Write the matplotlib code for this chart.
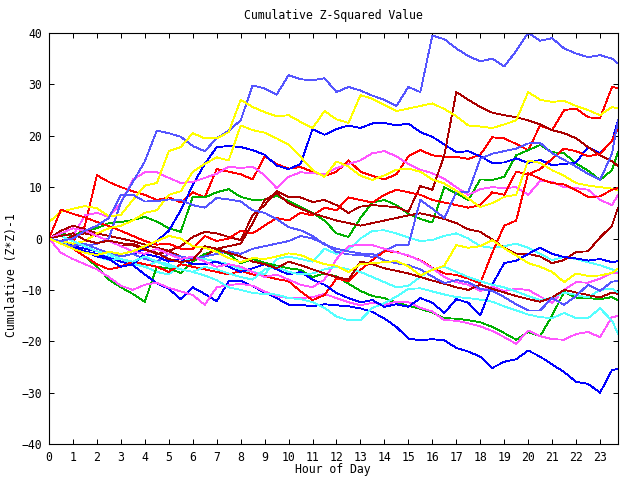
import matplotlib
matplotlib.use("Agg")
import matplotlib.pyplot as plt

# half-hour samples, last point at 23:45
hours = [i * 0.5 for i in range(48)] + [23.75]

red_a = [0, 0.5, -0.5, 2.5, 12.3, 11, 10, 9.2, 8.5, 7.5, 8, 7,
         9, 8, 13.5, 13, 12.5, 11.5, 16, 14.5, 13.6, 13.9, 13, 12.2,
         13, 15.2, 13, 12.2, 11.5, 12.5, 16, 17.2, 16.2, 15.9, 15.9, 15.5,
         16.3, 19.7, 19.5, 18.4, 17.2, 22, 21.1, 25, 25.3, 23.6, 23.4, 29.5,
         29.3]
red_b = [0, 5.6, 4.8, 4.1, 3.2, 2.4, 1.5, 0.5, -0.5, -1.2, -1, -2,
         -2, 0.5, -0.5, 0, 1.5, 1, 2.5, 4, 3.5, 5, 4.5, 6,
         5.5, 8, 7.5, 7, 8.5, 9.5, 9, 8.5, 7.5, 7, 6.5, 6,
         6.5, 9, 8.5, 13, 12.5, 13.5, 15.5, 17.5, 17, 16, 16.5, 19,
         21.5]
red_c = [0, -1, -2, -3.5, -5, -6, -5.5, -4.5, -5, -5.5, -6.5, -5,
         -5.5, -6, -6.5, -7, -6.3, -7, -7.3, -7.9, -8.3, -10.3, -12, -11,
         -7.8, -8.3, -6.1, -4.2, -2.5, -2.6, -3.4, -4.2, -5.7, -6.8, -7.1, -7.8,
         -8.7, -2.8, 2.5, 3.5, 12.7, 11.6, 10.8, 10.5, 9.4, 8.1, 8.2, 9.5,
         9.8]
green_a = [0, 1, 0.5, 1.5, 2, 3, 3.2, 3.6, 4.2, 3.3, 2, 1.3,
           8.1, 8, 9, 9.6, 8.1, 7.5, 7.6, 8.3, 7.3, 6.1, 5, 3.5,
           1, 0.3, 4, 7, 7.5, 6.5, 4.8, 3.8, 3.1, 10, 8.8, 7.5,
           11.5, 11.4, 12, 16.2, 17.2, 18.2, 16.8, 16.6, 14.6, 13.2, 11.4, 13.3,
           16.8]
green_b = [0, -1, -2, -3.5, -5.5, -8, -9.5, -10.8, -12.3, -5.5, -5.8, -6.7,
           -4.5, -3, -2.2, -3, -4.8, -4, -4.7, -5.3, -5.8, -6.1, -7.5, -6.8,
           -7.4, -8.8, -10.2, -11.2, -11.6, -12.5, -13.1, -13.7, -14.4, -15.5, -15.6, -15.9,
           -16.3, -17.2, -18.4, -19.7, -18.2, -19, -15, -10.4, -11.5, -11.6, -11.8, -11.4,
           -12]
blue_a = [0, -0.5, -1.5, -2, -2.5, -3, -3.5, -3, -2, -0.5, 1.5, 5.5,
          10.4, 14.5, 17.8, 18, 17.8, 17.2, 16.3, 14.2, 13.5, 14.5, 21.3, 20.2,
          21.3, 22, 21.5, 22.4, 22.5, 22, 22.4, 20.7, 19.8, 18.3, 16.8, 17,
          16, 14.7, 14.8, 15.6, 14.7, 15.3, 14.3, 14.5, 14.8, 17.8, 16.6, 19,
          23]
blue_b = [0, -1, -1.5, -2.5, -3, -3.8, -4.5, -5.2, -7, -8.7, -9.8, -11.8,
          -9.5, -10.8, -12.2, -8.3, -8.2, -9.3, -10.5, -11.6, -12.9, -12.9, -13.2, -12.8,
          -13, -13.2, -13.6, -14.3, -15.6, -17.2, -19.5, -19.8, -19.6, -19.8, -21.3, -22,
          -23, -25.2, -24, -23.5, -21.8, -23, -24.5, -26, -27.9, -28.3, -30, -25.6,
          -25.4]
blue_c = [0, -1, -2, -2.5, -3.5, -4, -5.5, -5, -3, -3.5, -4.5, -4,
          -5, -5, -4.5, -5.5, -6.5, -5.8, -5, -6, -7, -6.5, -8, -9,
          -10.6, -11.6, -12.4, -12, -13.3, -12.8, -13.3, -11.6, -12.5, -14.5, -11.8, -12.5,
          -15, -9, -4.8, -4.3, -3, -1.8, -3, -3.6, -3.9, -4.3, -4, -4.6,
          -4.4]
magenta_a = [0, -0.5, 0.5, 4.5, 5, 4.2, 6.9, 11.5, 12.9, 12.9, 11.8, 10.8,
             11, 11.8, 12.6, 14, 13.7, 14, 12.3, 9.8, 12, 12.9, 12.7, 12.5,
             13.7, 14.5, 15.2, 16.6, 17, 16, 14.5, 13.4, 12.7, 11.6, 10, 8.5,
             9.6, 10, 9.8, 10, 8.5, 11.2, 11, 10, 9.8, 9.5, 7.5, 6.5,
             8.5]
magenta_b = [0, -2.8, -4, -5, -6, -7.5, -9.2, -10, -9, -8.6, -9.6, -10.3,
             -11, -12.9, -9.5, -9.1, -8.8, -9.2, -10.3, -11.2, -11.6, -11.6, -11.4, -10.8,
             -11.6, -12.4, -13, -12.5, -12.9, -12.3, -12.4, -13.5, -14.2, -15.9, -16, -16.5,
             -17.1, -18, -19.2, -20.5, -17.9, -19, -19.6, -19.7, -18.6, -18.2, -19.2, -15.3,
             -15.1]
magenta_c = [0, 1, 2, 1.5, 0.5, -0.5, -1.5, -2.5, -3, -2, -3, -4,
             -3.5, -4.5, -5.5, -5, -5.5, -6.5, -7.5, -7, -8, -9, -9.5, -8,
             -4, -1.5, -1.2, -1.3, -2, -2.7, -3.3, -4.3, -5.8, -7.5, -8.5, -9,
             -10.2, -9.4, -10.2, -9.8, -10, -11.3, -12.5, -10, -8.5, -8.6, -7.8, -6.7,
             -6.7]
cyan_a = [0, -1, -1.5, -2.5, -3, -3.5, -4.5, -5, -5.5, -6.5, -7, -5,
          -3.5, -4, -4.5, -5, -6, -6.5, -7, -4, -3.5, -4, -4.5, -2,
          -3, -2.2, 0, 1.5, 1.6, 1, 0.2, -0.5, -0.3, 0.5, 1, 0,
          -1.5, -1.8, -1.5, -1, -1.8, -3, -4.2, -3.6, -4, -4.6, -5.2, -6,
          -6.5]
cyan_b = [0, -0.5, -2, -2.5, -3.5, -4.2, -4, -4.8, -5.5, -4.5, -5.5, -6,
          -6.5, -7.2, -8.1, -9.5, -10, -10.6, -10.8, -10.9, -11.6, -11.8, -12.4, -13.5,
          -15.2, -15.9, -15.9, -13.5, -12.6, -11.3, -9.8, -9.7, -10.3, -10.9, -11.4, -11.6,
          -11.9, -12.3, -13.2, -14, -14.8, -15.3, -15.5, -14.5, -15.5, -15.5, -13.6, -16,
          -18.5]
cyan_c = [0, 0.5, -0.5, -1.5, -2.5, -3, -4, -4.5, -3.5, -4.5, -5, -6,
          -6.5, -5.5, -6, -6.8, -7.5, -8, -6, -5.5, -6.5, -7, -6.8, -6,
          -5.5, -6, -6.5, -7.5, -8.5, -9.5, -9.2, -7.5, -6, -5.5, -6.5, -7.5,
          -8.3, -9, -9.5, -10.3, -11.2, -12, -11.5, -10.5, -11, -11.5, -10, -9.8,
          -10.5]
darkred_a = [0, 1.5, 2.5, 1.8, 1, 0.5, 0, -0.5, -1.2, -1.8, -2.4, -1.5,
             0.3, 1.3, 1, 0.3, -0.3, 4.5, 6.5, 9.2, 8.1, 8, 7.1, 7.5,
             6.5, 5, 6.2, 6.5, 6.3, 6.1, 5.2, 10.2, 9.5, 16.2, 28.5, 27,
             25.6, 24.5, 24, 23.6, 23, 22.2, 21.1, 20.5, 19.5, 17.8, 16.2, 15,
             14.1]
darkred_b = [0, -0.5, 0.5, 1, 0.5, -0.5, -1.5, -1, -2, -3, -2.5, -3.5,
             -4, -3.5, -2, -1.5, -1, 3, 7.5, 8.8, 6.9, 5.8, 4.9, 4.2,
             3.5, 3, 2.5, 3, 3.5, 4, 4.5, 4.9, 4.4, 3.8, 3, 1.8,
             1.3, -0.2, -1.8, -3, -3, -3.5, -4.8, -4.2, -2.6, -2.5, 0.2, 2.5,
             6]
darkred_c = [0, 0.5, 1, -0.3, -0.9, -0.4, -0.9, -1.3, -2.2, -2.8, -4, -4.6,
             -4.2, -1.5, -2, -2.8, -3.5, -4.5, -5, -5.8, -4.5, -5.2, -6, -6.8,
             -7.5, -8, -4.5, -5, -5.8, -6.3, -6.8, -7.5, -8.2, -8.8, -9.5, -10,
             -9, -9.8, -10.5, -11.2, -11.8, -12.3, -11.5, -10, -10.5, -11, -11.5, -10.5,
             -10.8]
slate_a = [0, -0.5, -1, -1.5, -1, 0, 7, 11, 15, 21, 20.5, 19.8,
           18, 17, 19.5, 21, 23, 29.8, 29.2, 28, 31.8, 31, 30.8, 31.2,
           28.5, 29.5, 28.8, 27.8, 27, 25.8, 29.5, 28.5, 39.5, 38.8, 37, 35.5,
           34.5, 35, 33.5, 36.5, 40, 38.5, 39, 37, 36, 35.3, 35.7, 35,
           34.1]
slate_b = [0, -1, -1.5, -1, -2, -2.8, -3.5, -3, -4, -4.5, -3, -3.5,
           -4, -3.5, -3, -2.5, -3, -2, -1.5, -1, -0.5, 0.5, 0, -1,
           -2.6, -3.1, -3.2, -3.6, -2.4, -1.3, -1.3, 7.5, 5.8, 4, 9, 9,
           15.5, 16.5, 17, 17.5, 18.5, 18.6, 16.6, 15.3, 14, 12.6, 11.4, 16.5,
           23]
slate_c = [0, -0.5, 0, 1.5, 2.5, 4, 8.5, 8.5, 7.2, 7.3, 7.6, 7.5,
           6.5, 6, 7.9, 7.6, 7.2, 5.5, 5, 3.8, 2.2, 1.6, 0.5, -1.2,
           -2, -2.5, -2.9, -3, -4.3, -4.8, -5.2, -6, -7.4, -8.7, -8.1, -8.5,
           -9.8, -10.2, -11.4, -12.8, -14, -14, -11.6, -12.9, -11.2, -9, -10.2, -8.4,
           -8.3]
yellow_a = [3.2, 5.2, 5.8, 6.3, 5.9, 4.3, 4.6, 7.5, 10.3, 10.8, 17, 17.8,
            20.5, 19.5, 19.5, 20.7, 27, 25.6, 24.6, 23.8, 24, 22.7, 21.5, 24.8,
            23.2, 22.5, 27.9, 27.2, 26, 24.8, 25.3, 25.8, 26.3, 25.2, 23.8, 22,
            21.8, 21.5, 22.2, 23, 28.5, 27, 26.6, 26.8, 25.8, 25, 24, 25.6,
            25.3]
yellow_b = [0, -0.5, -1, -0.5, 1, 2, 2.5, 3.5, 5, 5.5, 8.5, 9.2,
            13, 14.5, 15.8, 15.2, 22, 21.1, 20.6, 19.5, 18.3, 15.9, 13.3, 12,
            15, 14, 12.2, 11.4, 12.3, 13.4, 13.6, 13, 11.5, 10.7, 9.3, 7.8,
            6.1, 6.9, 8.1, 8.5, 15.2, 14.7, 13.3, 12.2, 10.8, 10.3, 10, 9.7,
            9.4]
yellow_c = [0, -1, -2, -2.8, -3.2, -2.6, -3, -2.5, -1.5, -0.5, 0.5, 0,
            -1.5, -1.8, -2.6, -3.8, -4.6, -3.8, -4, -3.5, -2.9, -3.2, -4.2, -5,
            -5.3, -6.5, -5, -4.8, -4.6, -4.4, -5.4, -7.2, -6.1, -5.3, -1.3, -1.8,
            -1.5, -0.3, -1.9, -3.3, -4.8, -5.5, -6.5, -8.5, -6.8, -7.3, -7.2, -6.7,
            -5.9]

series = [
    (red_a, '#ff0000'), (green_a, '#00b000'), (blue_a, '#0000ff'),
    (magenta_a, '#ff55ff'), (cyan_a, '#55ffff'), (darkred_a, '#aa0000'),
    (slate_a, '#5555ff'), (yellow_a, '#ffff00'),
    (red_b, '#ff0000'), (green_b, '#00b000'), (blue_b, '#0000ff'),
    (magenta_b, '#ff55ff'), (cyan_b, '#55ffff'), (darkred_b, '#aa0000'),
    (slate_b, '#5555ff'), (yellow_b, '#ffff00'),
    (red_c, '#ff0000'), (blue_c, '#0000ff'),
    (magenta_c, '#ff55ff'), (cyan_c, '#55ffff'), (darkred_c, '#aa0000'),
    (slate_c, '#5555ff'), (yellow_c, '#ffff00'),
]

plt.rcParams['font.family'] = ['DejaVu Sans Mono']
plt.rcParams['font.size'] = 8.3

fig = plt.figure(figsize=(6.4, 4.8), dpi=100)
ax = fig.add_axes([49 / 640, 1 - 444 / 480, 569 / 640, 411 / 480])

for values, color in series:
    ax.plot(hours, values, color=color, linewidth=0.6, antialiased=False)

ax.set_xlim(0, 23.75)
ax.set_ylim(-40, 40)
ax.set_xticks(range(24))
ax.set_yticks(range(-40, 41, 10))
ax.tick_params(direction='in', top=True, right=True, length=3.6, width=0.72,
               pad=5, labelsize=8.3)
for spine in ax.spines.values():
    spine.set_linewidth(0.8)

fig.text(333 / 640, 1 - 16 / 480, 'Cumulative Z-Squared Value', ha='center', va='center')
fig.text(333 / 640, 1 - 470 / 480, 'Hour of Day', ha='center', va='center')
fig.text(12 / 640, 1 - 275 / 480, 'Cumulative (Z*Z)-1', ha='center', va='center',
         rotation=90)

fig.savefig('out.png', dpi=100)
